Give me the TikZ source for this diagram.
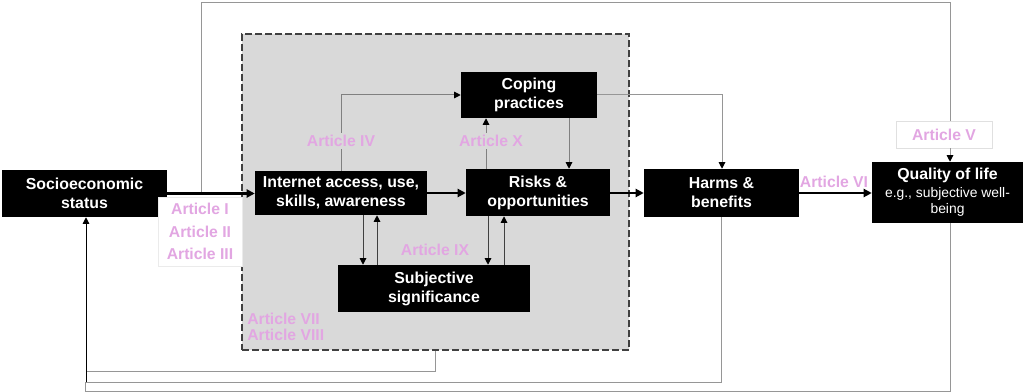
\documentclass[tikz,border=0pt]{standalone}
\usepackage{fontspec}
\setmainfont{Liberation Sans}
\usetikzlibrary{arrows.meta,calc}
\definecolor{pinklbl}{RGB}{226,166,226}
\definecolor{panelgray}{RGB}{217,217,217}
\definecolor{dashgray}{RGB}{64,64,64}
\definecolor{linegray}{RGB}{128,128,128}
\definecolor{loopgray}{RGB}{150,150,150}
\begin{document}
\begin{tikzpicture}[x=0.75pt,y=-0.75pt,
  box/.style={fill=black,text=white,font=\fontsize{11.9}{14.3}\selectfont\bfseries,align=center,inner sep=0pt},
  lbl/.style={text=pinklbl,font=\fontsize{11.8}{14}\selectfont\bfseries,inner sep=1.5pt},
  mainarrow/.style={line width=2pt,-{Triangle[length=6pt,width=6pt]}},
  thinline/.style={draw=linegray,line width=0.75pt},
  thinarrow/.style={thinline,-{Triangle[length=5pt,width=5pt,color=black]}},
  loopline/.style={draw=loopgray,line width=0.75pt},
]
\useasboundingbox (0,0) rectangle (1023,392);

% shaded group of internet-related constructs
\node[fill=panelgray,draw=dashgray,line width=1.5pt,dash pattern=on 5pt off 2.5pt,
      minimum width=290.25pt,minimum height=237pt,inner sep=0pt] (grp) at (435.5,192) {};

% boxes
\node[box,minimum width=123.75pt,minimum height=35.25pt] (ses) at (84.5,193.5) {Socioeconomic\\status};
\node[box,minimum width=129pt,minimum height=33pt] (int) at (341,193) {Internet access, use,\\skills, awareness};
\node[box,minimum width=102pt,minimum height=34.5pt] (cope) at (529,95) {Coping\\practices};
\node[box,minimum width=108pt,minimum height=35.25pt] (risk) at (538,192.5) {Risks \&\\opportunities};
\node[box,minimum width=144pt,minimum height=35.25pt] (subj) at (434,288.5) {Subjective\\significance};
\node[box,minimum width=116.25pt,minimum height=36pt] (harm) at (721.5,193) {Harms \&\\benefits};
\node[box,minimum width=113.25pt,minimum height=45.75pt] (qol) at (947.5,192.5)
  {Quality of life\\[-1pt]{\fontsize{10.4}{12.5}\selectfont\mdseries e.g., subjective well-}\\[-2pt]{\fontsize{10.4}{12.5}\selectfont\mdseries being}};

% article boxes with white fill
\node[draw=black!12,fill=white,minimum width=72pt,minimum height=20.25pt,inner sep=0pt,
      text=pinklbl,font=\fontsize{11.8}{14}\selectfont\bfseries] (artv) at (944,134.5) {Article V};
\node[draw=black!8,fill=white,minimum width=63pt,minimum height=51.75pt,inner sep=0pt,align=center,
      text=pinklbl,font=\fontsize{11.8}{16.9}\selectfont\bfseries] (arti) at (200,231.5) {Article I\\Article II\\Article III};

% outer loop from socioeconomic status to quality of life
\coordinate (tap) at ($(ses.east)+(34,0)$);
\coordinate (ctop) at (950,3);
\draw[loopline] (tap) |- (ctop) -- (ctop |- artv.north);
\draw[thinarrow,draw=loopgray] (ctop |- artv.south) -- (ctop |- qol.north);

% feedback lines to socioeconomic status
\coordinate (fb1) at (86,371);
\coordinate (fb2) at (86,382);
\coordinate (fb3) at (85,391);
\draw[loopline] (grp.south) |- (fb1);
\draw[loopline] (harm.south) |- (fb2);
\draw[loopline] ($(qol.south)+(2.5,0)$) |- (fb3) -- (fb3 |- fb2);
\draw[line width=0.75pt,-{Triangle[length=5pt,width=5pt]}] (fb2) -- (fb2 |- ses.south);

% main chain
\draw[mainarrow] (ses.east |- tap) -- (int.west |- tap);
\draw[mainarrow] (int.east) -- (risk.west |- int.east);
\draw[mainarrow] (risk.east |- int.east) -- (harm.west |- int.east);
\draw[mainarrow] (harm.east) -- (qol.west |- harm.east);

% links inside the group
\draw[thinarrow] (int.north) |- (cope.west);
\coordinate (rc) at ($(risk.north)+(-52,0)$);
\draw[thinarrow] (rc) -- (rc |- cope.south);
\coordinate (cr) at ($(cope.south)+(40,0)$);
\draw[thinarrow] (cr) -- (cr |- risk.north);
\draw[thinarrow,draw=loopgray] (cope.east) -| ($(harm.north)+(0.5,0)$);

\coordinate (is1) at ($(int.south)+(22,0)$);
\coordinate (is2) at ($(int.south)+(36,0)$);
\draw[thinarrow,draw=dashgray] (is1) -- (is1 |- subj.north);
\draw[thinarrow,draw=dashgray] (is2 |- subj.north) -- (is2);
\coordinate (rs1) at ($(risk.south)+(-50,0)$);
\coordinate (rs2) at ($(risk.south)+(-34,0)$);
\draw[thinarrow,draw=dashgray] (rs1) -- (rs1 |- subj.north);
\draw[thinarrow,draw=dashgray] (rs2 |- subj.north) -- (rs2);

% article labels
\node[lbl,fill=panelgray] (a4) at (341,141) {Article IV};
\node[lbl,fill=panelgray] (a10) at (491,141) {Article X};
\node[lbl] (a9) at (435,250) {Article IX};
\node[lbl] (a6) at (834,182) {Article VI};
\node[lbl,anchor=west,align=left,font=\fontsize{11.8}{12}\selectfont\bfseries] (a78) at (245,327) {Article VII\\Article VIII};
\end{tikzpicture}
\end{document}
